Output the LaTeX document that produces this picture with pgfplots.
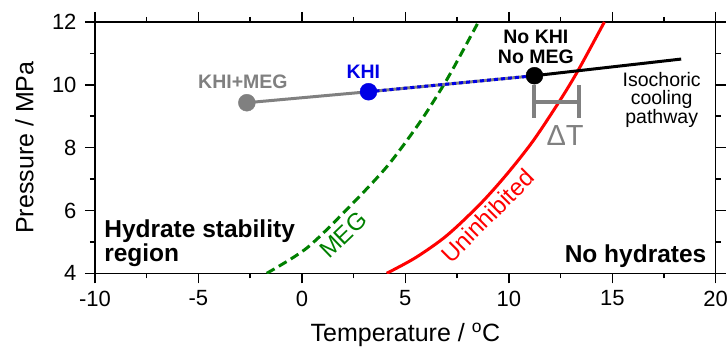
\documentclass[border=0pt]{standalone}
\usepackage{fontspec}
\setmainfont{Liberation Sans}
\usepackage{pgfplots}
\pgfplotsset{compat=1.18}
\definecolor{grayline}{RGB}{128,128,128}
\definecolor{megg}{RGB}{0,128,0}
\definecolor{khib}{RGB}{0,0,230}
\begin{document}
\begin{tikzpicture}
\begin{axis}[
  scale only axis, width=620.7bp, height=251.3bp,
  xmin=-10, xmax=20, ymin=4, ymax=12,
  xtick={-10,-5,...,20}, minor xtick={-7.5,-2.5,...,17.5},
  ytick={4,6,...,12}, minor ytick={5,7,9,11},
  tick align=outside, major tick length=10bp, minor tick length=5bp,
  every tick/.style={line width=1.5bp, black},
  axis line style={line width=1.5bp},
  /pgf/number format/assume math mode=true,
  ticklabel style={font=\fontsize{22bp}{24bp}\selectfont},
  xticklabel style={yshift=-4bp},
  yticklabel style={xshift=-5bp},
  xlabel={Temperature / \textsuperscript{o}C},
  ylabel={Pressure / MPa},
  label style={font=\fontsize{25bp}{28bp}\selectfont},
  xlabel style={at={(axis description cs:0.5,0)}, anchor=base, yshift=-68.4bp},
  ylabel style={at={(axis description cs:0,0.5)}, anchor=base, rotate=0, yshift=61.7bp},
  clip=true,
]
% hydrate curves
\addplot[megg, line width=3bp, dash pattern=on 9bp off 5bp, smooth] coordinates {
  (-1.70,4.0) (0.23,4.80) (2.24,6.08) (4.10,7.39) (5.63,8.74) (6.67,9.80) (7.32,10.53) (8.53,12.0)};
\addplot[red, line width=3bp, smooth] coordinates {
  (4.10,4.0) (5.50,4.50) (7.00,5.20) (8.61,6.20) (9.90,7.15) (11.18,8.22) (12.47,9.50) (13.36,10.47) (14.62,12.0)};
% pathway lines
\addplot[grayline, line width=3bp] coordinates {(-2.66,9.43) (3.22,9.78) (11.24,10.29)};
\addplot[khib, line width=3bp, dash pattern=on 4bp off 3bp] coordinates {(3.22,9.78) (11.24,10.29)};
\addplot[black, line width=3bp] coordinates {(11.24,10.29) (18.33,10.82)};
% delta T bracket
\addplot[grayline, line width=4bp] coordinates {(11.22,9.99) (11.22,8.93)};
\addplot[grayline, line width=4bp] coordinates {(13.38,9.99) (13.38,8.93)};
\addplot[grayline, line width=4bp] coordinates {(11.22,9.46) (13.38,9.46)};
% markers
\addplot[only marks, mark=*, mark size=8.5bp, grayline] coordinates {(-2.66,9.43)};
\addplot[only marks, mark=*, mark size=8.5bp, khib] coordinates {(3.22,9.78)};
\addplot[only marks, mark=*, mark size=8.5bp, black] coordinates {(11.24,10.29)};
% labels
\node[text=grayline, font=\bfseries\fontsize{19.5bp}{20bp}\selectfont] at (axis cs:-2.85,10.10) {KHI+MEG};
\node[text=khib, font=\bfseries\fontsize{19.5bp}{20bp}\selectfont] at (axis cs:2.97,10.42) {KHI};
\node[align=center, font=\bfseries\fontsize{19.5bp}{20bp}\selectfont] at (axis cs:11.31,11.22) {No KHI\\No MEG};
\node[align=center, font=\fontsize{19.5bp}{18.5bp}\selectfont] at (axis cs:17.39,9.52) {Isochoric\\cooling\\pathway};
\node[text=grayline, font=\fontsize{29bp}{30bp}\selectfont] at (axis cs:12.72,8.40) {ΔT};
\node[align=left, anchor=west, font=\bfseries\fontsize{24.5bp}{23.5bp}\selectfont] at (axis cs:-9.72,4.95) {Hydrate stability\\region};
\node[anchor=east, font=\bfseries\fontsize{24.5bp}{24bp}\selectfont] at (axis cs:19.72,4.53) {No hydrates};
\node[rotate=44, text=megg, font=\fontsize{24bp}{24bp}\selectfont] at (axis cs:2.0,5.22) {MEG};
\node[rotate=45, text=red, font=\fontsize{24bp}{24bp}\selectfont] at (axis cs:8.97,5.83) {Uninhibited};
\coordinate (SW) at (rel axis cs:0,0);
\coordinate (NE) at (rel axis cs:1,1);
\end{axis}
\pgfresetboundingbox
\path ([xshift=-95bp,yshift=-73.7bp]SW) rectangle ([xshift=11.3bp,yshift=22bp]NE);
\end{tikzpicture}
\end{document}
